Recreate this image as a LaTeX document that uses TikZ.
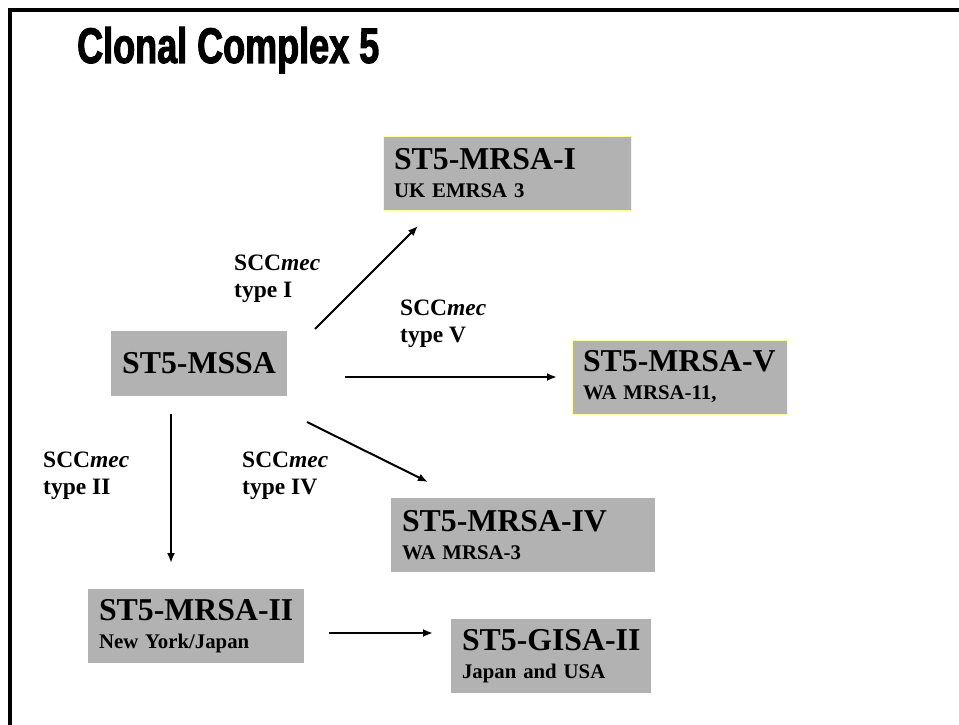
\documentclass[tikz,border=0pt]{standalone}
\usepackage{fontspec}
\setmainfont{Liberation Serif}
\newfontfamily\titlefont{Liberation Sans}[UprightFont=* Bold, FakeStretch=0.72, FakeBold=2]
\usetikzlibrary{arrows.meta}
\definecolor{boxgray}{RGB}{178,178,178}
\definecolor{paleyellow}{RGB}{255,255,153}

\begin{document}
\begin{tikzpicture}[x=1pt,y=-1pt]
\tikzstyle{every node}=[inner sep=0pt]
\tikzstyle{strain}=[rectangle, fill=boxgray, inner xsep=11pt, align=left, minimum height=74pt, font=\bfseries\fontsize{20.8}{28}\selectfont]
\tikzstyle{lined}=[draw=paleyellow, line width=1pt]
\tikzstyle{cassette}=[anchor=north west, align=left, font=\bfseries\fontsize{23.5}{27}\selectfont]
\tikzstyle{gain}=[-{Latex[length=10pt,width=8pt]}, line width=2pt]
\useasboundingbox (0,0) rectangle (959,725);
\draw[line width=3.3pt] (10,725) -- (10,10) -- (959,10);
\draw (77,63) node (title) [anchor=base west] {\titlefont\fontsize{50}{50}\selectfont Clonal Complex 5};
\draw (199,363.5) node (mssa) [strain, align=center, minimum width=176pt, minimum height=65pt] {\fontsize{31.8}{26}\selectfont ST5-MSSA};
\draw (507,173) node (mrsa1) [strain, lined, text width=226pt] {\mbox{\fontsize{31.8}{26}\selectfont ST5-MRSA-I}\\UK EMRSA 3};
\draw (679.5,377) node (mrsa5) [strain, lined, text width=193pt] {\mbox{\fontsize{31.8}{26}\selectfont ST5-MRSA-V}\\WA MRSA-11,};
\draw (523,535) node (mrsa4) [strain, text width=242pt] {\mbox{\fontsize{31.8}{26}\selectfont ST5-MRSA-IV}\\WA MRSA-3};
\draw (196,626) node (mrsa2) [strain, text width=194pt] {\mbox{\fontsize{31.8}{26}\selectfont ST5-MRSA-II}\\New York/Japan};
\draw (551,656) node (gisa2) [strain, text width=178pt] {\mbox{\fontsize{31.8}{26}\selectfont ST5-GISA-II}\\Japan and USA};
\draw (234,255) node (lab1) [cassette] {SCC\textit{mec}\\type I};
\draw (400,300) node (lab5) [cassette] {SCC\textit{mec}\\type V};
\draw (43,452) node (lab2) [cassette] {SCC\textit{mec}\\type II};
\draw (242,452) node (lab4) [cassette] {SCC\textit{mec}\\type IV};
\coordinate (a1) at (315,329);
\coordinate (b1) at (418,226);
\coordinate (a5) at (345,377);
\coordinate (b5) at (557,377);
\coordinate (a4) at (307,422);
\coordinate (b4) at (428,482);
\coordinate (a2) at (171,414);
\coordinate (b2) at (171,563);
\coordinate (a6) at (329,633);
\coordinate (b6) at (433,633);
\draw[gain] (a1) -- (b1);
\draw[gain] (a5) -- (b5);
\draw[gain] (a4) -- (b4);
\draw[gain] (a2) -- (b2);
\draw[gain] (a6) -- (b6);
\end{tikzpicture}
\end{document}
